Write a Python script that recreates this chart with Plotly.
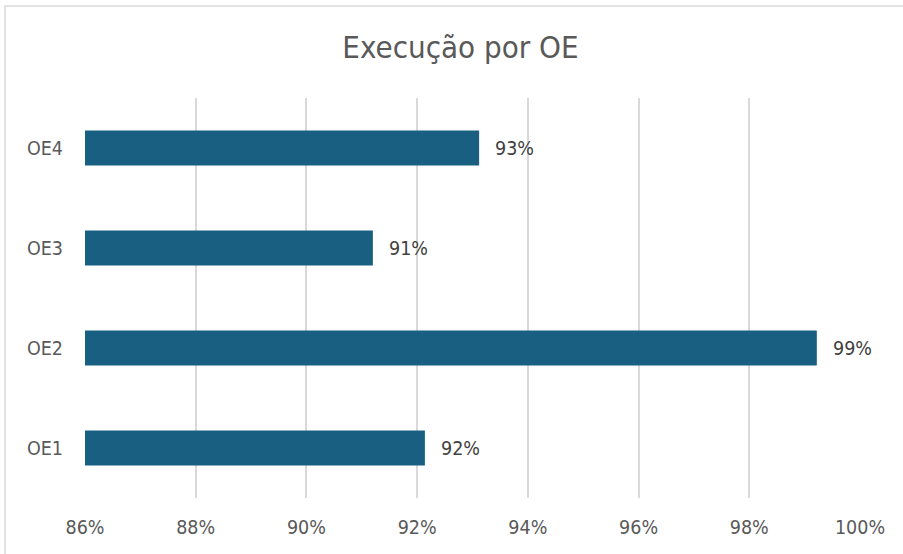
import plotly.graph_objects as go

# Execution rate per strategic objective (OE)
categories = ["OE1", "OE2", "OE3", "OE4"]
execucao = [0.9214, 0.9922, 0.9120, 0.9312]
x_ticks = [0.86, 0.88, 0.90, 0.92, 0.94, 0.96, 0.98, 1.00]

FONT = "DejaVu Sans Condensed, Liberation Sans Narrow, sans-serif"
BAR_COLOR = "#185F81"
TEXT_COLOR = "#595959"

fig = go.Figure()
fig.add_trace(go.Bar(
    y=categories,
    x=execucao,
    orientation="h",
    marker=dict(color=BAR_COLOR, line=dict(width=0)),
    hoverinfo="skip",
))

# Value labels to the right of each bar
for cat, val in zip(categories, execucao):
    fig.add_annotation(
        x=val, y=cat, xref="x", yref="y",
        text=f"{val:.0%}", showarrow=False,
        xanchor="left", yanchor="middle", xshift=14,
        font=dict(family=FONT, size=19.5, color="#404040"),
    )

# Thin outer frame of the chart area
fig.add_shape(
    type="rect", xref="paper", yref="paper",
    x0=-0.1032, x1=1.2, y0=-0.3, y1=1.23,
    line=dict(color="#D9D9D9", width=1.5), fillcolor="rgba(0,0,0,0)",
    layer="below",
)

fig.update_layout(
    width=903, height=554,
    margin=dict(l=85, r=43, t=98, b=56),
    paper_bgcolor="white", plot_bgcolor="white",
    bargap=0.648,
    showlegend=False,
    title=dict(
        text="Execução por OE", x=0.51, xanchor="center",
        y=0.915, yanchor="middle",
        font=dict(family=FONT, size=31, color=TEXT_COLOR),
    ),
    xaxis=dict(
        range=[0.86, 1.00], tickvals=x_ticks, tickformat=".0%",
        showgrid=True, gridcolor="#D9D9D9", gridwidth=1.5,
        zeroline=False, showline=False, ticks="",
        tickfont=dict(family=FONT, size=19.5, color=TEXT_COLOR),
        ticklabelstandoff=15,
    ),
    yaxis=dict(
        showgrid=False, showline=False, ticks="",
        tickfont=dict(family=FONT, size=19.5, color=TEXT_COLOR),
        ticklabelstandoff=21,
    ),
)

fig.write_html("out.html")
